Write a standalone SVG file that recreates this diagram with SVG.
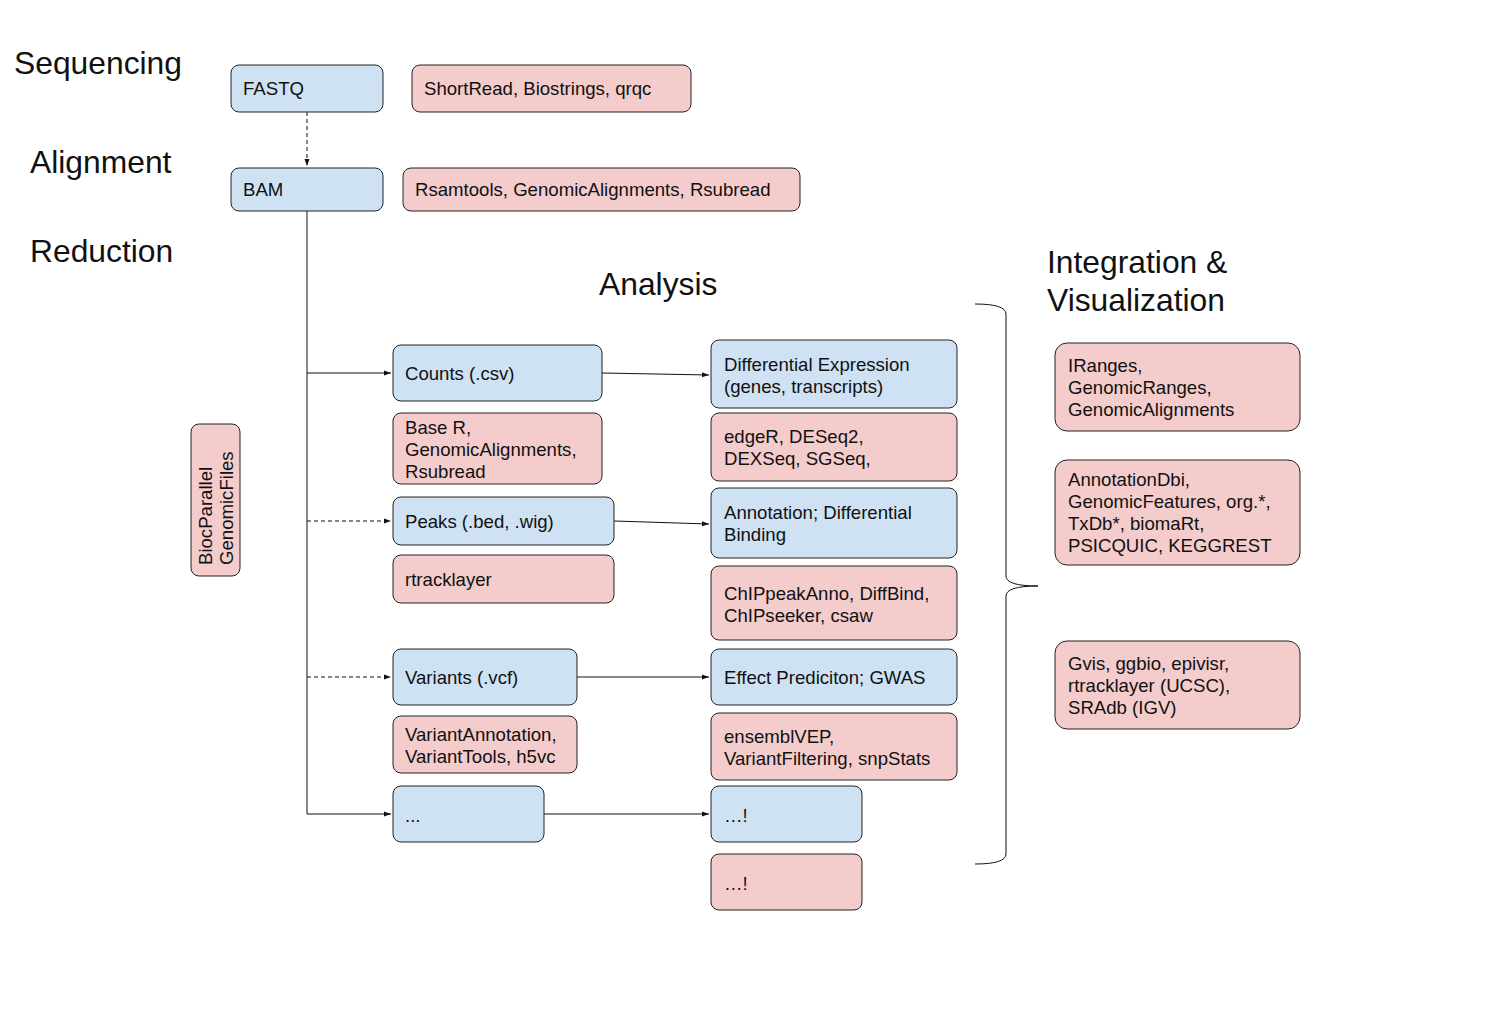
<svg xmlns="http://www.w3.org/2000/svg" width="1494" height="1021" viewBox="0 0 1494 1021">
<style>
.b{fill:#cfe2f3;stroke:#222;stroke-width:1}
.p{fill:#f4cccc;stroke:#222;stroke-width:1}
text{font-family:"Liberation Sans",Arial,sans-serif;fill:#111}
.t{font-size:18.6px}
.h{font-size:31.8px}
.c{stroke:#111;stroke-width:1;fill:none}
.d{stroke-dasharray:4,3}
</style>
<defs>
<marker id="ah" markerWidth="8" markerHeight="6" refX="7" refY="3" orient="auto" markerUnits="userSpaceOnUse">
<path d="M0,0.5 L7,3 L0,5.5 Z" fill="#111"/>
</marker>
</defs>
<rect width="1494" height="1021" fill="#fff"/>
<g id="titles">
<text class="h" x="14" y="74">Sequencing</text>
<text class="h" x="30" y="173">Alignment</text>
<text class="h" x="30" y="262">Reduction</text>
<text class="h" x="599" y="295">Analysis</text>
<text class="h" x="1047" y="273">Integration &amp;</text>
<text class="h" x="1047" y="311">Visualization</text>
</g>
<g id="connectors">
<path class="c d" d="M307,112 V166" marker-end="url(#ah)"/>
<path class="c" d="M307,211 V814 H391" marker-end="url(#ah)"/>
<path class="c" d="M307,373 H391" marker-end="url(#ah)"/>
<path class="c d" d="M307,521 H391" marker-end="url(#ah)"/>
<path class="c d" d="M307,677 H391" marker-end="url(#ah)"/>
<path class="c" d="M602,373 L709,375" marker-end="url(#ah)"/>
<path class="c" d="M614,521 L709,524" marker-end="url(#ah)"/>
<path class="c" d="M577,677 H709" marker-end="url(#ah)"/>
<path class="c" d="M544,814 H709" marker-end="url(#ah)"/>
<path class="c" d="M975,304 Q1006,304 1006,314 V576 Q1006,586 1038,586 Q1006,586 1006,596 V854 Q1006,864 975,864"/>
</g>
<g id="fastq"><rect class="b" x="231" y="65" width="152" height="47" rx="8"/><text class="t" x="243" y="95">FASTQ</text></g>
<g id="fastq-pkgs"><rect class="p" x="412" y="65" width="279" height="47" rx="8"/><text class="t" x="424" y="95">ShortRead, Biostrings, qrqc</text></g>
<g id="bam"><rect class="b" x="231" y="168" width="152" height="43" rx="8"/><text class="t" x="243" y="196">BAM</text></g>
<g id="bam-pkgs"><rect class="p" x="403" y="168" width="397" height="43" rx="8"/><text class="t" x="415" y="196">Rsamtools, GenomicAlignments, Rsubread</text></g>
<g id="biocparallel"><rect class="p" x="191" y="424" width="49" height="152" rx="8"/>
<text class="t" transform="translate(212,565) rotate(-90)">BiocParallel</text>
<text class="t" transform="translate(233,565) rotate(-90)">GenomicFiles</text></g>
<g id="counts"><rect class="b" x="393" y="345" width="209" height="56" rx="8"/><text class="t" x="405" y="380">Counts (.csv)</text></g>
<g id="counts-pkgs"><rect class="p" x="393" y="413" width="209" height="71" rx="8"/><text class="t" x="405" y="434">Base R,</text><text class="t" x="405" y="456">GenomicAlignments,</text><text class="t" x="405" y="478">Rsubread</text></g>
<g id="peaks"><rect class="b" x="393" y="497" width="221" height="48" rx="8"/><text class="t" x="405" y="528">Peaks (.bed, .wig)</text></g>
<g id="peaks-pkgs"><rect class="p" x="393" y="555" width="221" height="48" rx="8"/><text class="t" x="405" y="586">rtracklayer</text></g>
<g id="variants"><rect class="b" x="393" y="649" width="184" height="56" rx="8"/><text class="t" x="405" y="684">Variants (.vcf)</text></g>
<g id="variants-pkgs"><rect class="p" x="393" y="716" width="184" height="57" rx="8"/><text class="t" x="405" y="741">VariantAnnotation,</text><text class="t" x="405" y="763">VariantTools, h5vc</text></g>
<g id="other"><rect class="b" x="393" y="786" width="151" height="56" rx="8"/><text class="t" x="405" y="822">...</text></g>
<g id="diffexp"><rect class="b" x="711" y="340" width="246" height="68" rx="8"/><text class="t" x="724" y="371">Differential Expression</text><text class="t" x="724" y="393">(genes, transcripts)</text></g>
<g id="diffexp-pkgs"><rect class="p" x="711" y="413" width="246" height="68" rx="8"/><text class="t" x="724" y="443">edgeR, DESeq2,</text><text class="t" x="724" y="465">DEXSeq, SGSeq,</text></g>
<g id="annotation"><rect class="b" x="711" y="488" width="246" height="70" rx="8"/><text class="t" x="724" y="519">Annotation; Differential</text><text class="t" x="724" y="541">Binding</text></g>
<g id="annotation-pkgs"><rect class="p" x="711" y="566" width="246" height="74" rx="8"/><text class="t" x="724" y="600">ChIPpeakAnno, DiffBind,</text><text class="t" x="724" y="622">ChIPseeker, csaw</text></g>
<g id="effect"><rect class="b" x="711" y="649" width="246" height="56" rx="8"/><text class="t" x="724" y="684">Effect Prediciton; GWAS</text></g>
<g id="effect-pkgs"><rect class="p" x="711" y="713" width="246" height="67" rx="8"/><text class="t" x="724" y="743">ensemblVEP,</text><text class="t" x="724" y="765">VariantFiltering, snpStats</text></g>
<g id="other-analysis"><rect class="b" x="711" y="786" width="151" height="56" rx="8"/><text class="t" x="724" y="822">…!</text></g>
<g id="other-analysis-pkgs"><rect class="p" x="711" y="854" width="151" height="56" rx="8"/><text class="t" x="724" y="890">…!</text></g>
<g id="ranges"><rect class="p" x="1055" y="343" width="245" height="88" rx="12"/><text class="t" x="1068" y="372">IRanges,</text><text class="t" x="1068" y="394">GenomicRanges,</text><text class="t" x="1068" y="416">GenomicAlignments</text></g>
<g id="annotation-db"><rect class="p" x="1055" y="460" width="245" height="105" rx="12"/><text class="t" x="1068" y="486">AnnotationDbi,</text><text class="t" x="1068" y="508">GenomicFeatures, org.*,</text><text class="t" x="1068" y="530">TxDb*, biomaRt,</text><text class="t" x="1068" y="552">PSICQUIC, KEGGREST</text></g>
<g id="visualization"><rect class="p" x="1055" y="641" width="245" height="88" rx="12"/><text class="t" x="1068" y="670">Gvis, ggbio, epivisr,</text><text class="t" x="1068" y="692">rtracklayer (UCSC),</text><text class="t" x="1068" y="714">SRAdb (IGV)</text></g>
</svg>
